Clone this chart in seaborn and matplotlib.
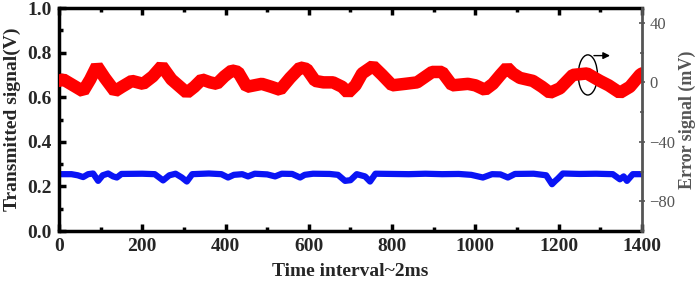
import matplotlib
matplotlib.use("Agg")
import matplotlib.pyplot as plt
from matplotlib.patches import Ellipse
from matplotlib.ticker import MultipleLocator
import seaborn as sns
import pandas as pd

# error signal (red, right axis, mV)
t_err = [0, 10, 22, 40, 58, 75, 91, 110, 134, 151, 175, 202, 225, 247, 270, 307,
         325, 343, 363, 379, 397, 415, 430, 451, 487, 510, 531, 555, 579, 595, 615,
         635, 658, 680, 694, 712, 728, 754, 776, 800, 831, 860, 896, 920, 944, 982,
         1000, 1023, 1042, 1060, 1076, 1090, 1107, 1138, 1160, 1179, 1203, 1234,
         1268, 1299, 1320, 1347, 1371, 1395, 1400]
err_mv = [1, 2, 0, -3, -6, 2, 11, 3, -6, -3, 1, -1, 4, 11, 2, -7,
          -3, 2, 0, -1, 4, 8, 7, -3, -1, -3, -5, 3, 10, 9, 1,
          0, 0, -3, -7, -2, 6, 11, 5, -2, -1, 0, 7, 7, -2, -1,
          -2, -5, -1, 5, 10, 6, 3, 1, -3, -7, -4, 5,
          6, 1, -2, -7, -3, 5, 6]

# transmitted signal (blue, left axis, V)
t_tr = [0, 30, 45, 58, 70, 82, 94, 105, 118, 130, 139, 150, 200, 230, 250, 265,
        280, 295, 307, 320, 360, 390, 406, 420, 440, 454, 470, 500, 519, 535, 560,
        579, 590, 610, 650, 670, 687, 700, 715, 735, 747, 760, 800, 840, 880, 920,
        960, 990, 1018, 1040, 1060, 1078, 1095, 1140, 1170, 1184, 1192, 1198, 1210,
        1250, 1290, 1330, 1347, 1356, 1364, 1378, 1400]
tr_v = [0.255, 0.255, 0.25, 0.242, 0.255, 0.258, 0.225, 0.25, 0.258, 0.245, 0.24,
        0.256, 0.257, 0.255, 0.227, 0.25, 0.257, 0.24, 0.222, 0.255, 0.258, 0.255,
        0.24, 0.252, 0.255, 0.245, 0.257, 0.254, 0.245, 0.257, 0.256, 0.24, 0.252,
        0.257, 0.256, 0.252, 0.225, 0.228, 0.255, 0.245, 0.222, 0.257, 0.256, 0.255,
        0.257, 0.255, 0.256, 0.252, 0.24, 0.255, 0.254, 0.24, 0.256, 0.257, 0.25,
        0.21, 0.225, 0.235, 0.258, 0.256, 0.257, 0.255, 0.232, 0.245, 0.225, 0.255,
        0.255]

sns.set_style("ticks")
plt.rcParams['font.family'] = ['Liberation Serif', 'DejaVu Serif']

fig = plt.figure(figsize=(6.99, 2.87), dpi=100)
ax = fig.add_axes([0.0844, 0.195, 0.834, 0.777])

df_tr = pd.DataFrame({"t": t_tr, "v": tr_v})
sns.lineplot(data=df_tr, x="t", y="v", ax=ax, color="#0a14f5", linewidth=4.5)
ax.set_xlim(0, 1400)
ax.set_ylim(0, 1.0)
ax.xaxis.set_major_locator(MultipleLocator(200))
ax.xaxis.set_minor_locator(MultipleLocator(100))
ax.yaxis.set_major_locator(MultipleLocator(0.2))
ax.yaxis.set_minor_locator(MultipleLocator(0.1))
ax.tick_params(which="both", direction="in", top=True, right=False, width=2.5, color="black")
ax.tick_params(which="major", length=5, labelsize=14, pad=5)
ax.tick_params(which="minor", length=3)
for lab in ax.get_xticklabels() + ax.get_yticklabels():
    lab.set_fontweight("bold")
for side in ["left", "bottom", "top"]:
    ax.spines[side].set_linewidth(2.5)
    ax.spines[side].set_color("black")
ax.spines["right"].set_visible(False)
ax.set_xlabel("Time interval~2ms", fontsize=14, fontweight="bold", labelpad=6)
ax.set_ylabel("Transmitted signal(V)", fontsize=14, fontweight="bold", labelpad=5)

ax2 = ax.twinx()
df_err = pd.DataFrame({"t": t_err, "mv": err_mv})
sns.lineplot(data=df_err, x="t", y="mv", ax=ax2, color="#ff0000", linewidth=9)
for ln in ax2.get_lines():
    ln.set_solid_joinstyle("bevel")
ax2.set_ylim(-100, 50)
ax2.yaxis.set_minor_locator(MultipleLocator(20))
ax2.set_yticks([40, 0, -40, -80])
ax2.tick_params(which="both", direction="inout", color="#555555", width=1.2,
                labelcolor="#555555", labelsize=12, pad=3)
ax2.tick_params(which="major", length=5)
ax2.tick_params(which="minor", length=3)
for side in ["left", "bottom", "top"]:
    ax2.spines[side].set_visible(False)
ax2.spines["right"].set_linewidth(2)
ax2.spines["right"].set_color("#555555")
ax2.set_ylabel("Error signal (mV)", fontsize=13, fontweight="bold", color="#555555", labelpad=2)
ax2.set_xlabel("")

ax2.add_patch(Ellipse((1270, 5), 46, 27, fill=False, edgecolor="black", linewidth=1))
ax2.annotate("", xy=(1330, 18), xytext=(1278, 18),
             arrowprops=dict(arrowstyle="-|>", color="black", lw=1, mutation_scale=10))

fig.savefig("out.png", dpi=100)
